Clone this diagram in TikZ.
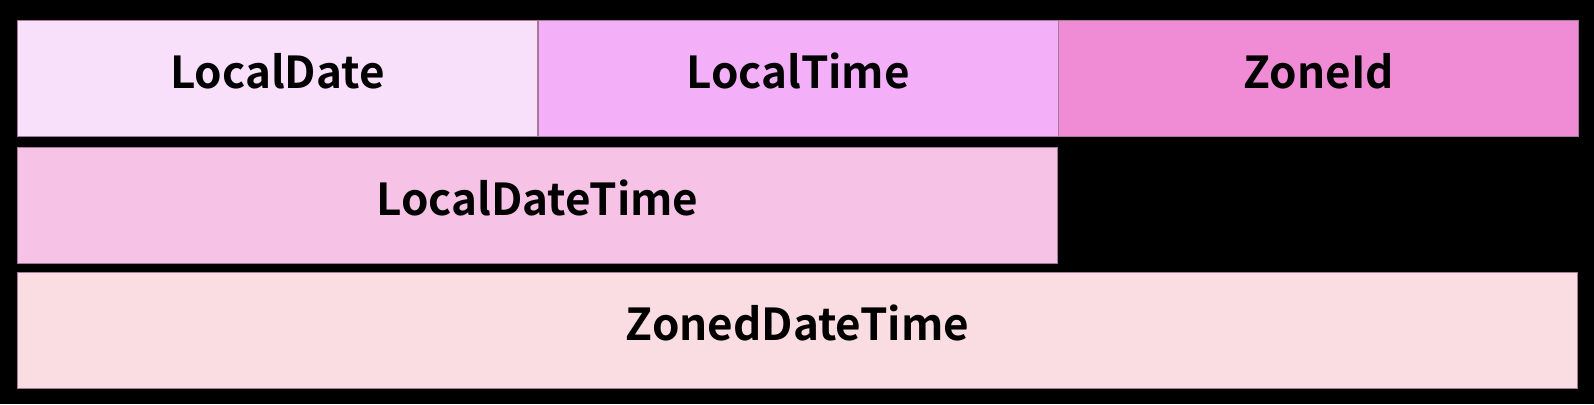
\documentclass[tikz,border=0pt]{standalone}
\usepackage{fontspec}
\setmainfont{Noto Sans CJK KR}[BoldFont={Noto Sans CJK KR Bold}]
\usepackage{xcolor}
\usetikzlibrary{positioning}
\definecolor{dateC}{HTML}{F8DFFA}
\definecolor{timeC}{HTML}{F3B0F8}
\definecolor{zoneC}{HTML}{F08BD6}
\definecolor{ldtC}{HTML}{F6C3E6}
\definecolor{zdtC}{HTML}{FADDE2}
\definecolor{edgeC}{HTML}{A77A9C}

\begin{document}
\begin{tikzpicture}[x=1pt,y=-1pt,
  cell/.style={draw=edgeC,line width=0.7pt,inner sep=0pt,
    minimum height=116pt,text height=30pt,text depth=9pt,
    font=\bfseries\fontsize{44}{48}\selectfont}]
\fill[black] (0,0) rectangle (1594,404);
% top row: the three parts
\node[cell,fill=dateC,minimum width=520pt,anchor=north west] (ldate) at (17,20) {LocalDate};
\node[cell,fill=timeC,minimum width=520pt,right=0pt of ldate] (ltime) {LocalTime};
\node[cell,fill=zoneC,minimum width=520pt,right=0pt of ltime] (zid) {ZoneId};
% combined types
\node[cell,fill=ldtC,minimum width=1040pt,anchor=north west] (ldt) at (17,147) {LocalDateTime};
\node[cell,fill=zdtC,minimum width=1560pt,anchor=north west] (zdt) at (17,272) {ZonedDateTime};
\end{tikzpicture}
\end{document}
